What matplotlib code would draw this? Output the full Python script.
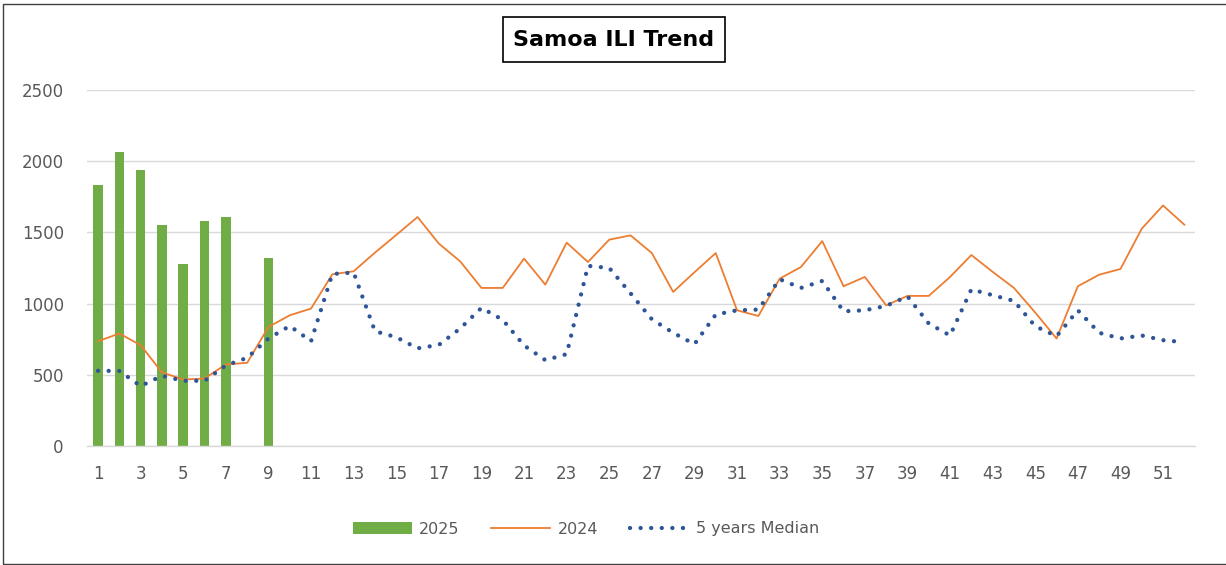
import numpy as np
import matplotlib
matplotlib.use("Agg")
import matplotlib.pyplot as plt
from matplotlib.patches import Rectangle

# weekly ILI counts
weeks = np.arange(1, 53)
week_labels = [str(w) if w % 2 == 1 else "" for w in weeks]

cases_2025 = [1830, 2063, 1940, 1554, 1280, 1582, 1610, np.nan, 1320]

cases_2024 = [736, 790, 708, 517, 467, 474, 573, 584, 836, 918,
              965, 1206, 1227, 1358, 1482, 1608, 1421, 1297, 1110, 1110,
              1316, 1133, 1428, 1292, 1449, 1479, 1355, 1082, 1220, 1355,
              953, 913, 1175, 1257, 1439, 1122, 1187, 988, 1054, 1054,
              1187, 1341, 1223, 1110, 937, 755, 1122, 1203, 1243, 1526,
              1689, 1554]

median_5y = [528, 527, 421, 493, 458, 458, 566, 619, 755, 843,
             736, 1208, 1218, 806, 764, 686, 710, 825, 970, 886,
             706, 603, 645, 1265, 1250, 1072, 890, 795, 715, 923,
             953, 958, 1171, 1110, 1159, 946, 953, 984, 1051, 860,
             776, 1100, 1059, 1019, 841, 771, 953, 795, 755, 776,
             743, 729]

fig = plt.figure(figsize=(12.26, 5.65), dpi=100)
ax = fig.add_axes([87.4 / 1226, 1 - 446 / 565, (1195 - 87.4) / 1226, (446 - 90) / 565])

bars = ax.bar(weeks[:len(cases_2025)], cases_2025, width=0.45, color="#70AD47", label="2025", zorder=2)
l24, = ax.plot(weeks, cases_2024, color="#ED7D31", lw=1.3, label="2024", zorder=3)
lmed, = ax.plot(weeks, median_5y, color="#2E5597", lw=3.1, linestyle=(0, (0.01, 2.45)),
                dash_capstyle="round", label="5 years Median", zorder=4)

ax.set_xlim(0.5, 52.5)
ax.set_ylim(0, 2500)
ax.set_yticks(np.arange(0, 2501, 500))
ax.set_xticks(weeks)
ax.set_xticklabels(week_labels)
ax.grid(axis="y", color="#d9d9d9", lw=1.0, zorder=0)
for s in ["top", "right", "left"]:
    ax.spines[s].set_visible(False)
ax.spines["bottom"].set_color("#d9d9d9")
ax.spines["bottom"].set_linewidth(1.0)
ax.tick_params(axis="x", length=0, pad=14, labelsize=12, labelcolor="#595959")
ax.tick_params(axis="y", length=0, pad=17, labelsize=12, labelcolor="#595959")

# title in a box
fig.patches.append(Rectangle((503 / 1226, 1 - 62 / 565), 222 / 1226, 45 / 565,
                             transform=fig.transFigure, fill=False, ec="black", lw=1.2))
fig.text(614 / 1226, 1 - 40 / 565, "Samoa ILI Trend", ha="center", va="center",
         fontsize=16, fontweight="bold", color="black")

# outer border
fig.patches.append(Rectangle((3 / 1226, 1 / 565), 1.0, 1 - 5 / 565,
                             transform=fig.transFigure, fill=False, ec="#404040", lw=1.0))

leg = ax.legend([bars, l24, lmed], ["2025", "2024", "5 years Median"],
                loc="center", bbox_to_anchor=(586 / 1226, 1 - 529 / 565),
                bbox_transform=fig.transFigure, ncol=3, frameon=False,
                fontsize=11.5, handlelength=3.7, handletextpad=0.45, columnspacing=2.0)
for t in leg.get_texts():
    t.set_color("#595959")

fig.savefig("out.png", dpi=100)
